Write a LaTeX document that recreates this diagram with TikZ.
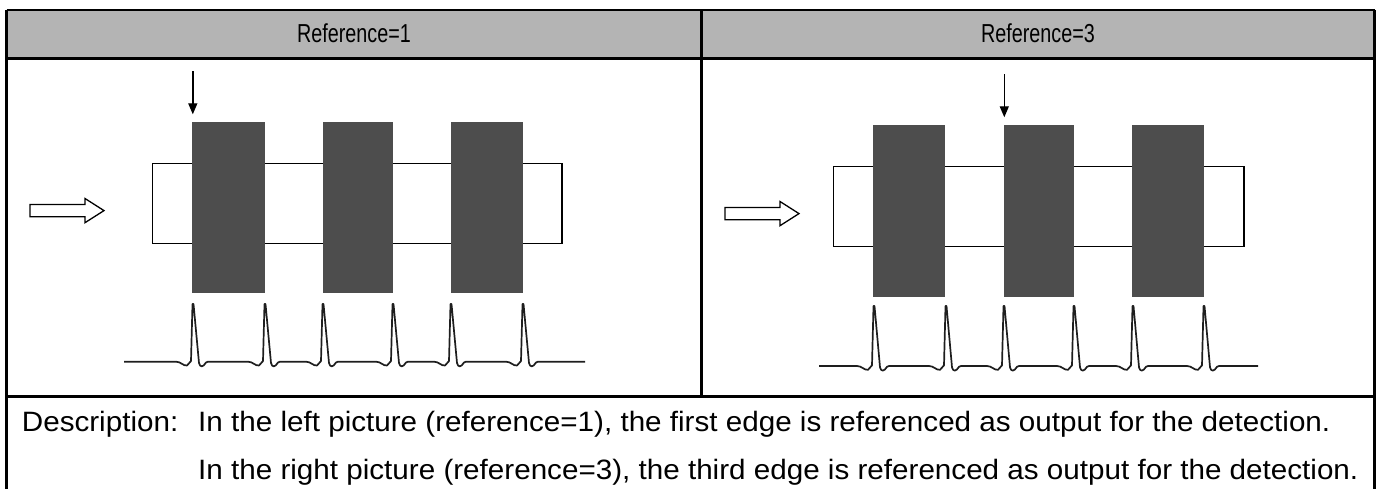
\documentclass[tikz,border=0pt]{standalone}
\usepackage{fontspec}
\setmainfont{Liberation Sans}
\newfontfamily\headfont[FakeStretch=0.76]{Liberation Sans}
\newfontfamily\descfont[FakeStretch=1.058]{Liberation Sans}
\usetikzlibrary{arrows.meta,positioning,calc}
\definecolor{tbedge}{RGB}{0,0,0}
\definecolor{tbhead}{RGB}{180,180,180}
\definecolor{barfill}{RGB}{77,77,77}
\definecolor{ecgink}{RGB}{30,30,30}
\tikzset{
  tline/.style={draw=tbedge, line width=2.6pt},
  headtxt/.style={inner sep=0pt, anchor=base, font=\headfont\fontsize{26}{30}\selectfont},
  desctxt/.style={inner sep=0pt, anchor=base west, font=\descfont\fontsize{28}{32}\selectfont},
  barbox/.style={fill=barfill, draw=none, inner sep=0pt, anchor=north west},
  window/.style={draw=black, line width=1.5pt},
  hollow/.style={draw=black, line width=1.3pt, fill=white, line join=miter},
  pointer/.style={-{Triangle[length=11pt,width=9pt]}, draw=black, line width=1.4pt},
  ecg/.style={draw=ecgink, line width=1.7pt, line join=round}
}

\begin{document}
\begin{tikzpicture}[x=1pt, y=-1pt]
  \useasboundingbox (0,0) rectangle (1381,489);
  % table
  \fill[tbhead] (6.5,10) rectangle (1374.7,58.5);
  \draw[tline] (6.5,10) -- (1374.7,10);
  \draw[tline] (6.5,58.5) -- (1374.7,58.5);
  \draw[tline] (6.5,396.7) -- (1374.7,396.7);
  \draw[tline] (6.5,10) -- (6.5,495);
  \draw[tline] (1374.7,10) -- (1374.7,495);
  \draw[tline] (701.7,10) -- (701.7,396.7);
  \node[headtxt] (hdl) at (354,43) {Reference=1};
  \node[headtxt] (hdr) at (1038,43) {Reference=3};

  % left picture
  \draw[window] (152.7,163.3) rectangle (562,243.3);
  \draw[hollow] (30,204.5) -- (85,204.5) -- (85,198.5) -- (104,210.6)
    -- (85,222.7) -- (85,216.7) -- (30,216.7) -- cycle;
  \node[barbox, minimum width=72.5pt, minimum height=170pt] (lb1) at (191.8,122.3) {};
  \node[barbox, minimum width=70pt, minimum height=170pt] (lb2) at (322.3,122.3) {};
  \node[barbox, minimum width=72pt, minimum height=170pt] (lb3) at (450.7,122.3) {};
  \coordinate (lpin) at ($(lb1.north west)+(1,-51)$);
  \draw[pointer] (lpin) -- ($(lb1.north west)+(1,-8)$);
  \draw[ecg] (124,361.7)
    \foreach \p in {193,265,323,393,451,523}{
      -- (\p-17,361.7) .. controls (\p-12,361.7) and (\p-10,366) .. (\p-6,365.5)
      -- (\p-2,361) -- (\p-0.5,304) -- (\p+0.5,304) -- (\p+6,363)
      .. controls (\p+7,367.5) and (\p+10,367.5) .. (\p+13,362.5) -- (\p+15,361.7)}
    -- (585,361.7);

  % right picture
  \draw[window] (833.7,166.3) rectangle (1244,246.3);
  \draw[hollow] (725,207.5) -- (780,207.5) -- (780,201.5) -- (799,213.6)
    -- (780,225.7) -- (780,219.7) -- (725,219.7) -- cycle;
  \node[barbox, minimum width=72.3pt, minimum height=171pt] (rb1) at (872.7,125.3) {};
  \node[barbox, minimum width=70pt, minimum height=171pt] (rb2) at (1003.3,125.3) {};
  \node[barbox, minimum width=71.6pt, minimum height=171pt] (rb3) at (1131.7,125.3) {};
  \coordinate (rpin) at ($(rb2.north west)+(1,-51)$);
  \draw[pointer] (rpin) -- ($(rb2.north west)+(1,-8)$);
  \draw[ecg] (819,366)
    \foreach \p in {874,946,1004,1074,1133,1204}{
      -- (\p-17,366) .. controls (\p-12,366) and (\p-10,370.3) .. (\p-6,369.8)
      -- (\p-2,365.3) -- (\p-0.5,306) -- (\p+0.5,306) -- (\p+6,367.3)
      .. controls (\p+7,371.8) and (\p+10,371.8) .. (\p+13,366.8) -- (\p+15,366)}
    -- (1258,366);

  % description row
  \node[desctxt] (desclbl) at (21.7,431) {Description:};
  \node[desctxt] (descone) at (198,431) {In the left picture (reference=1), the first edge is referenced as output for the detection.};
  \node[desctxt] (desctwo) at (198,479) {In the right picture (reference=3), the third edge is referenced as output for the detection.};
\end{tikzpicture}
\end{document}
